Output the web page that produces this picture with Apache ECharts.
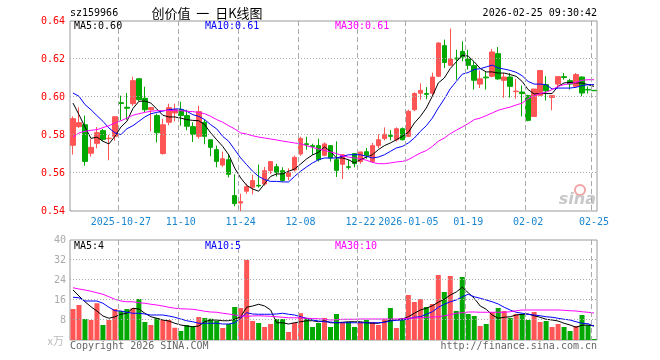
<!DOCTYPE html>
<html><head><meta charset="utf-8">
<script src="https://cdn.jsdelivr.net/npm/echarts@6/dist/echarts.min.js"></script>
<style>html,body{margin:0;padding:0;background:#fff}#c{width:660px;height:360px}</style>
</head><body><div id="c"></div>
<script>
const dates = ['2025-10-15','2025-10-16','2025-10-17','2025-10-20','2025-10-21','2025-10-22','2025-10-23','2025-10-24',
'2025-10-27','2025-10-28','2025-10-29','2025-10-30','2025-10-31','2025-11-03','2025-11-04','2025-11-05','2025-11-06','2025-11-07',
'2025-11-10','2025-11-11','2025-11-12','2025-11-13','2025-11-14','2025-11-17','2025-11-18','2025-11-19','2025-11-20','2025-11-21',
'2025-11-24','2025-11-25','2025-11-26','2025-11-27','2025-11-28','2025-12-01','2025-12-02','2025-12-03','2025-12-04','2025-12-05',
'2025-12-08','2025-12-09','2025-12-10','2025-12-11','2025-12-12','2025-12-15','2025-12-16','2025-12-17','2025-12-18','2025-12-19',
'2025-12-22','2025-12-23','2025-12-24','2025-12-25','2025-12-26','2025-12-29','2025-12-30','2025-12-31',
'2026-01-05','2026-01-06','2026-01-07','2026-01-08','2026-01-09','2026-01-12','2026-01-13','2026-01-14','2026-01-15','2026-01-16',
'2026-01-19','2026-01-20','2026-01-21','2026-01-22','2026-01-23','2026-01-26','2026-01-27','2026-01-28','2026-01-29','2026-01-30',
'2026-02-02','2026-02-03','2026-02-04','2026-02-05','2026-02-06','2026-02-09','2026-02-10','2026-02-11','2026-02-12','2026-02-13',
'2026-02-24','2026-02-25'];

const tickDates  = ['2025-10-27','2025-11-10','2025-11-24','2025-12-08','2025-12-22','2026-01-05','2026-01-19','2026-02-02','2026-02-25'];
const tickLabels = ['2025-10-27','11-10','11-24','12-08','12-22','2026-01-05','01-19','02-02','02-25'];
const priceGrid = [0.56, 0.58, 0.60, 0.62];
const volGrid = [8, 16, 24, 32];

const open = [0.5746,0.5844,0.5854,0.5704,0.5756,0.5823,0.5781,0.5793,0.5970,0.5946,0.5965,0.6096,0.5993,0.5933,0.5902,0.5702,0.5867,0.5916,0.5933,0.5902,
0.5844,0.5793,0.5867,0.5775,0.5723,0.5642,0.5670,0.5481,0.5442,0.5504,0.5525,0.5535,0.5542,0.5612,0.5633,0.5612,0.5582,0.5616,0.5700,0.5754,
0.5744,0.5744,0.5693,0.5744,0.5670,0.5646,0.5633,0.5702,0.5660,0.5712,0.5661,0.5744,0.5781,0.5798,0.5775,0.5833,0.5793,0.5933,0.6020,0.6018,
0.6020,0.6109,0.6270,0.6167,0.6205,0.6240,0.6200,0.6165,0.6068,0.6105,0.6109,0.6228,0.6088,0.6105,0.6028,0.6026,0.6007,0.5898,0.6009,0.6065,
0.5998,0.6068,0.6107,0.6086,0.6056,0.6105,0.6040,0.6035];
const close = [0.5886,0.5865,0.5661,0.5735,0.5812,0.5777,0.5783,0.5896,0.5966,0.5941,0.6086,0.5986,0.5933,0.5944,0.5812,0.5854,0.5944,0.5933,0.5902,0.5846,
0.5804,0.5923,0.5793,0.5735,0.5661,0.5675,0.5593,0.5439,0.5449,0.5528,0.5560,0.5532,0.5612,0.5660,0.5602,0.5561,0.5602,0.5682,0.5782,0.5749,
0.5739,0.5670,0.5753,0.5679,0.5614,0.5696,0.5630,0.5649,0.5711,0.5693,0.5744,0.5775,0.5804,0.5793,0.5833,0.5775,0.5925,0.6018,0.6035,0.6014,
0.6105,0.6284,0.6182,0.6200,0.6200,0.6211,0.6167,0.6088,0.6096,0.6101,0.6237,0.6095,0.6105,0.6056,0.6031,0.6018,0.5877,0.6042,0.6139,0.6033,
0.6007,0.6107,0.6103,0.6068,0.6118,0.6021,0.6037,0.6033];
const high = [0.5898,0.5946,0.5902,0.5779,0.5842,0.5832,0.5800,0.5898,0.6007,0.6021,0.6107,0.6096,0.6054,0.5945,0.5912,0.5886,0.5965,0.5965,0.5975,0.5933,
0.5867,0.5954,0.5881,0.5775,0.5744,0.5712,0.5700,0.5593,0.5491,0.5544,0.5591,0.5644,0.5632,0.5660,0.5649,0.5630,0.5625,0.5691,0.5791,0.5791,
0.5754,0.5781,0.5761,0.5744,0.5767,0.5698,0.5670,0.5702,0.5711,0.5732,0.5758,0.5804,0.5840,0.5826,0.5840,0.5840,0.5933,0.6025,0.6072,0.6053,
0.6128,0.6288,0.6302,0.6360,0.6249,0.6293,0.6249,0.6188,0.6139,0.6135,0.6253,0.6263,0.6126,0.6126,0.6095,0.6060,0.6012,0.6042,0.6139,0.6109,
0.6007,0.6107,0.6126,0.6095,0.6126,0.6109,0.6056,0.6035];
const low = [0.5697,0.5837,0.5639,0.5686,0.5730,0.5767,0.5667,0.5770,0.5879,0.5881,0.5953,0.5977,0.5921,0.5819,0.5761,0.5697,0.5851,0.5872,0.5849,0.5825,
0.5763,0.5781,0.5751,0.5688,0.5630,0.5633,0.5577,0.5425,0.5400,0.5491,0.5488,0.5523,0.5533,0.5595,0.5581,0.5554,0.5561,0.5607,0.5691,0.5723,
0.5695,0.5660,0.5688,0.5660,0.5579,0.5568,0.5618,0.5630,0.5649,0.5675,0.5653,0.5730,0.5772,0.5772,0.5765,0.5772,0.5789,0.5925,0.5986,0.5989,
0.6007,0.6105,0.6153,0.6165,0.6091,0.6188,0.6144,0.6039,0.6047,0.6039,0.6104,0.6091,0.5996,0.5996,0.5991,0.5898,0.5872,0.5895,0.6004,0.5982,
0.5930,0.6047,0.6091,0.6039,0.6053,0.6004,0.6018,0.6033];

const ma5 = [0.5968,0.5907,0.5842,0.5782,0.5789,0.5767,0.5753,0.5793,0.5842,0.5872,0.5939,0.5977,0.5979,0.5968,0.5937,0.5904,0.5895,0.5895,0.5889,0.5881,0.5877,0.5875,0.5854,0.5811,0.5775,
0.5740,0.5696,0.5626,0.5574,0.5535,0.5516,0.5504,0.5544,0.5582,0.5595,0.5595,0.5609,0.5621,0.5647,0.5674,0.5695,0.5709,0.5737,0.5714,0.5679,0.5679,0.5670,0.5653,0.5670,0.5684,0.5696,0.5723,0.5744,0.5758,0.5775,0.5793,0.5814,0.5863,0.5898,0.5942,0.6004,0.6074,
0.6100,0.6150,0.6185,0.6220,0.6215,0.6185,0.6150,0.6132,0.6132,0.6126,0.6126,0.6118,0.6109,0.6082,0.6039,0.6016,0.6018,0.6018,0.6018,0.6056,0.6074,0.6077,0.6074,0.6074,0.6065,0.6056];
const ma10 = [0.6021,0.6004,0.5960,0.5933,0.5902,0.5872,0.5837,0.5811,0.5802,0.5833,0.5849,0.5872,0.5895,0.5912,0.5919,0.5926,0.5933,0.5937,0.5937,0.5925,0.5907,0.5898,0.5881,0.5854,0.5832,
0.5793,0.5767,0.5723,0.5679,0.5644,0.5609,0.5582,0.5565,0.5556,0.5556,0.5553,0.5553,0.5582,0.5609,0.5632,0.5653,0.5670,0.5679,0.5679,0.5679,0.5688,0.5696,0.5696,0.5696,0.5688,0.5679,0.5684,0.5696,0.5714,0.5732,0.5740,0.5758,0.5784,0.5819,0.5849,0.5889,0.5942,
0.5990,0.6043,0.6082,0.6120,0.6129,0.6145,0.6149,0.6158,0.6168,0.6153,0.6147,0.6140,0.6130,0.6112,0.6082,0.6068,0.6068,0.6065,0.6042,0.6047,0.6047,0.6047,0.6051,0.6060,0.6065,0.6065];
const ma30 = [0.5789,0.5811,0.5819,0.5825,0.5828,0.5839,0.5849,0.5863,0.5875,0.5889,0.5904,0.5912,0.5919,0.5925,0.5928,0.5928,0.5930,0.5928,0.5928,0.5925,0.5923,0.5919,0.5912,0.5898,0.5881,
0.5867,0.5849,0.5832,0.5811,0.5805,0.5796,0.5789,0.5784,0.5779,0.5774,0.5768,0.5763,0.5758,0.5754,0.5744,0.5735,0.5726,0.5719,0.5711,0.5702,0.5691,0.5684,0.5679,0.5675,0.5667,0.5656,0.5649,0.5649,0.5653,0.5658,0.5661,0.5670,0.5688,0.5705,0.5718,0.5740,0.5767,
0.5784,0.5807,0.5825,0.5842,0.5860,0.5881,0.5889,0.5902,0.5916,0.5930,0.5939,0.5947,0.5958,0.5968,0.5991,0.6007,0.6018,0.6025,0.6039,0.6056,0.6065,0.6070,0.6077,0.6088,0.6091,0.6091];

const vol = [12.4,14.0,8.4,8.0,14.7,6.0,8.0,12.4,11.6,12.4,12.7,16.4,7.2,6.0,8.8,8.0,8.0,4.9,3.6,6.0,
5.6,9.2,8.8,8.5,7.7,4.8,6.4,13.2,12.8,32.0,7.6,6.8,5.2,6.4,8.4,8.4,3.2,6.8,10.7,8.8,
5.2,6.8,8.8,5.2,10.4,7.2,7.2,5.2,7.2,8.0,7.2,6.0,8.4,12.8,4.8,8.8,18.0,15.2,16.4,13.2,
14.4,26.0,19.2,25.6,11.6,25.2,10.4,9.6,5.6,6.4,11.2,12.8,11.6,8.8,10.4,10.4,8.0,11.2,7.2,7.6,
5.2,6.4,5.2,3.6,5.6,10.0,6.0,0.4];
const vma5 = [20.0,17.6,15.3,13.3,11.6,9.6,8.7,9.3,10.3,10.7,12.7,12.4,10.7,9.3,8.7,8.0,7.6,6.7,6.0,5.6,5.3,5.6,7.3,8.0,8.0,7.7,7.7,8.3,9.3,13.1,13.6,14.3,13.6,12.0,6.9,6.9,6.4,6.9,7.3,7.7,7.7,7.3,7.7,6.9,
6.9,7.1,7.3,7.3,7.3,6.9,6.7,6.7,7.2,7.9,8.0,8.4,9.3,10.7,12.0,12.7,13.7,15.1,16.3,18.0,19.2,21.1,18.9,16.7,13.6,12.3,10.0,8.7,9.1,9.3,10.0,10.3,10.4,9.7,9.1,8.3,8.0,7.6,6.7,6.0,5.1,5.9,6.0,5.6];
const vma10 = [17.1,16.9,15.6,15.6,15.6,14.7,13.1,11.7,11.6,11.1,10.7,10.7,10.4,10.0,10.0,10.0,9.6,9.1,8.4,7.7,7.3,6.7,6.7,6.7,6.7,6.4,6.4,6.9,8.7,10.9,10.4,10.3,10.3,10.3,10.4,10.7,10.3,10.0,9.3,8.7,8.0,7.6,7.3,7.2,
6.9,6.9,6.9,6.9,6.9,6.9,6.9,6.9,7.1,7.6,7.9,8.0,8.4,9.1,9.3,10.3,11.3,13.1,14.3,15.3,16.0,17.3,18.3,17.3,16.7,16.0,15.3,14.4,13.1,12.0,11.1,10.7,10.3,10.0,9.7,9.3,9.1,8.7,8.3,8.0,7.3,6.7,6.5,5.6];
const vma30 = [20.9,20.4,20.0,19.5,18.9,18.3,17.3,16.3,15.6,15.3,15.3,14.9,14.7,14.3,14.0,13.6,13.1,12.7,12.5,12.4,12.3,11.9,11.5,11.2,11.1,10.7,10.4,10.0,9.6,9.5,9.6,9.7,9.6,9.5,9.3,9.1,8.9,8.9,8.8,8.7,8.6,8.5,8.3,8.0,
8.1,8.3,8.3,8.3,8.4,8.4,8.4,8.4,8.4,8.4,8.4,8.5,8.7,8.8,8.9,9.1,9.2,9.3,9.7,10.1,10.7,10.9,11.2,11.2,11.1,11.1,11.1,11.1,11.1,11.3,11.7,12.0,12.0,12.0,12.0,12.0,12.0,12.0,11.9,11.7,11.6,11.3,11.1,10.8];

const legendPrice = ['MA5:0.60','MA10:0.61','MA30:0.61'];
const legendVol = ['MA5:4','MA10:5','MA30:10'];

const RED = '#ff5555', GREEN = '#00a800', GRID = '#aaaaaa';
const MONO = '"DejaVu Sans Mono", "Liberation Mono", monospace';
const kdata = dates.map((d, i) => [open[i], close[i], low[i], high[i]]);
const vdata = vol.map((v, i) => ({value: v, itemStyle: {color: close[i] >= open[i] ? RED : GREEN}}));
const isTick = (idx, val) => tickDates.indexOf(val) >= 0;
const fmtDate = v => { const k = tickDates.indexOf(v); return k >= 0 ? tickLabels[k] : ''; };
const lineS = (name, data, color, xi, yi) => ({name, type: 'line', data, xAxisIndex: xi, yAxisIndex: yi, symbol: 'none', smooth: false,
  lineStyle: {color, width: 1}, silent: true, animation: false, z: 5});

const vGridSeries = (gi, yMin) => ({type: 'custom', xAxisIndex: gi, yAxisIndex: gi, silent: true, z: 10, clip: false, animation: false,
  data: tickDates.map(d => [d, yMin]),
  renderItem: (params, api) => {
    const cs = params.coordSys;
    const x = Math.round(api.coord([api.value(0), yMin])[0] - 2) - 0.5;
    return {type: 'line', shape: {x1: x, y1: cs.y, x2: x, y2: cs.y + cs.height},
      style: {stroke: GRID, lineWidth: 1, lineDash: [5, 3]}};
  }});
const hGridSeries = (gi, vals) => ({type: 'custom', xAxisIndex: gi, yAxisIndex: gi, silent: true, z: 10, clip: false, animation: false,
  data: vals.map(v => [dates[0], v]),
  renderItem: (params, api) => {
    const cs = params.coordSys;
    const y = Math.round(api.coord([api.value(0), api.value(1)])[1]) - 0.5;
    return {type: 'line', shape: {x1: cs.x, y1: y, x2: cs.x + cs.width, y2: y},
      style: {stroke: GRID, lineWidth: 1, lineDash: [1, 2]}};
  }});

const chart = echarts.init(document.getElementById('c'));
const xCommon = {type: 'category', data: dates, boundaryGap: true, axisLine: {show: false}, axisTick: {show: false}, splitLine: {show: false}};
chart.setOption({
  animation: false,
  grid: [
    {left: 70, right: 63, top: 21, height: 190, show: true, borderColor: '#999', borderWidth: 1, backgroundColor: 'transparent'},
    {left: 70, right: 63, top: 240, height: 100, show: true, borderColor: '#999', borderWidth: 1, backgroundColor: 'transparent'}
  ],
  xAxis: [
    Object.assign({}, xCommon, {gridIndex: 0, axisLabel: {show: true, interval: isTick, margin: 6, color: '#1a86d0', fontFamily: MONO, fontSize: 10, formatter: fmtDate}}),
    Object.assign({}, xCommon, {gridIndex: 1, axisLabel: {show: false}})
  ],
  yAxis: [
    {type: 'value', gridIndex: 0, min: 0.54, max: 0.64, interval: 0.02, axisLine: {show: false}, axisTick: {show: false},
      axisLabel: {color: '#ff0000', fontFamily: MONO, fontSize: 10, margin: 5, formatter: v => v.toFixed(2)},
      splitLine: {show: false}},
    {type: 'value', gridIndex: 1, min: 0, max: 40, interval: 8, axisLine: {show: false}, axisTick: {show: false},
      axisLabel: {color: '#aaaaaa', fontFamily: MONO, fontSize: 10, margin: 4, formatter: v => v === 0 ? '' : String(v)},
      splitLine: {show: false}}
  ],
  series: [
    {type: 'candlestick', data: kdata, xAxisIndex: 0, yAxisIndex: 0, barWidth: 5, silent: true, z: 3,
      itemStyle: {color: RED, color0: GREEN, borderColor: RED, borderColor0: GREEN, borderWidth: 1}},
    lineS('MA5', ma5, '#000000', 0, 0),
    lineS('MA10', ma10, '#0000ff', 0, 0),
    lineS('MA30', ma30, '#ff00ff', 0, 0),
    {type: 'bar', data: vdata, xAxisIndex: 1, yAxisIndex: 1, barWidth: 5, silent: true, z: 3},
    lineS('VMA5', vma5, '#000000', 1, 1),
    lineS('VMA10', vma10, '#0000ff', 1, 1),
    lineS('VMA30', vma30, '#ff00ff', 1, 1),
    vGridSeries(0, 0.54),
    hGridSeries(0, priceGrid),
    vGridSeries(1, 0),
    hGridSeries(1, volGrid)
  ],
  graphic: [
    {type: 'text', x: 70, y: 13, style: {text: 'sz159966', fill: '#000', font: '10px ' + MONO, verticalAlign: 'middle'}},
    {type: 'text', x: 207, y: 13, style: {text: '创价值  一  日K线图', fill: '#000', font: '13px "Noto Sans CJK SC"', align: 'center', verticalAlign: 'middle'}},
    {type: 'text', x: 597, y: 13, style: {text: '2026-02-25 09:30:42', fill: '#000', font: '10px ' + MONO, align: 'right', verticalAlign: 'middle'}},
    {type: 'text', x: 74, y: 26, z: 20, style: {text: legendPrice[0], fill: '#000', font: '10px ' + MONO, verticalAlign: 'middle'}},
    {type: 'text', x: 205, y: 26, z: 20, style: {text: legendPrice[1], fill: '#0000ff', font: '10px ' + MONO, verticalAlign: 'middle'}},
    {type: 'text', x: 335, y: 26, z: 20, style: {text: legendPrice[2], fill: '#ff00ff', font: '10px ' + MONO, verticalAlign: 'middle'}},
    {type: 'text', x: 74, y: 246, z: 20, style: {text: legendVol[0], fill: '#000', font: '10px ' + MONO, verticalAlign: 'middle'}},
    {type: 'text', x: 205, y: 246, z: 20, style: {text: legendVol[1], fill: '#0000ff', font: '10px ' + MONO, verticalAlign: 'middle'}},
    {type: 'text', x: 335, y: 246, z: 20, style: {text: legendVol[2], fill: '#ff00ff', font: '10px ' + MONO, verticalAlign: 'middle'}},
    {type: 'text', x: 64, y: 341, style: {text: 'x万', fill: '#bbbbbb', font: '11px "Noto Sans CJK SC"', align: 'right', verticalAlign: 'middle'}},
    {type: 'text', x: 70, y: 346, style: {text: 'Copyright 2026 SINA.COM', fill: '#666', font: '10px ' + MONO, verticalAlign: 'middle'}},
    {type: 'text', x: 597, y: 346, style: {text: 'http://finance.sina.com.cn', fill: '#666', font: '10px ' + MONO, align: 'right', verticalAlign: 'middle'}},
    {type: 'circle', shape: {cx: 580, cy: 190, r: 5}, style: {fill: 'none', stroke: '#f3a3a3', lineWidth: 2}},
    {type: 'text', x: 596, y: 200, style: {text: 'sina', fill: '#c8c8c8', font: 'italic bold 16px "DejaVu Sans"', align: 'right', verticalAlign: 'middle'}}
  ]
});
</script></body></html>
